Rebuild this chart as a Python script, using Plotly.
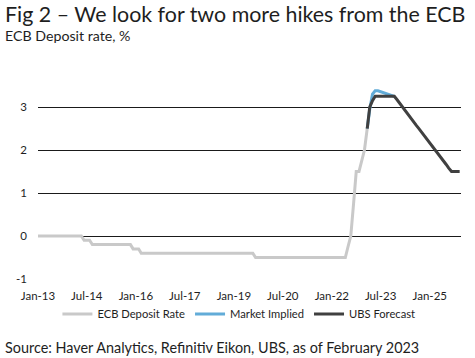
import plotly.graph_objects as go
import pandas as pd

# ECB deposit rate, monthly, Jan-2013 .. Feb-2023
ecb_dates = pd.date_range("2013-01-01", "2023-02-01", freq="MS")
ecb_rate = (
    [0.0] * 12 +                                                                   # 2013
    [0.0, 0.0, 0.0, 0.0, 0.0, -0.1, -0.1, -0.1, -0.2, -0.2, -0.2, -0.2] +          # 2014
    [-0.2, -0.2, -0.2, -0.2, -0.2, -0.2, -0.2, -0.2, -0.2, -0.2, -0.2, -0.3] +     # 2015
    [-0.3, -0.3, -0.4, -0.4, -0.4, -0.4, -0.4, -0.4, -0.4, -0.4, -0.4, -0.4] +     # 2016
    [-0.4] * 12 +                                                                  # 2017
    [-0.4] * 12 +                                                                  # 2018
    [-0.4, -0.4, -0.4, -0.4, -0.4, -0.4, -0.4, -0.4, -0.5, -0.5, -0.5, -0.5] +     # 2019
    [-0.5] * 12 +                                                                  # 2020
    [-0.5] * 12 +                                                                  # 2021
    [-0.5, -0.5, -0.5, -0.5, -0.5, -0.5, -0.25, 0.0, 0.75, 1.5, 1.5, 1.75] +       # 2022
    [2.0, 2.5]                                                                     # 2023
)

# Market implied path, Feb-2023 .. Dec-2023
mkt_dates = pd.date_range("2023-02-01", "2023-12-01", freq="MS")
mkt_rate = [2.5, 2.95, 3.3, 3.38, 3.38, 3.36, 3.34, 3.32, 3.3, 3.27, 3.25]

# UBS forecast, Feb-2023 .. Dec-2025
ubs_dates = pd.date_range("2023-02-01", "2025-12-01", freq="MS")
ubs_rate = (
    [2.5, 3.0, 3.15, 3.25, 3.25, 3.25, 3.25, 3.25, 3.25, 3.25, 3.25] +             # 2023
    [3.17, 3.08, 3.0, 2.92, 2.83, 2.75, 2.67, 2.58, 2.5, 2.42, 2.33, 2.25] +       # 2024
    [2.17, 2.08, 2.0, 1.92, 1.83, 1.75, 1.67, 1.58, 1.5, 1.5, 1.5, 1.5]            # 2025
)

y_ticks = [-1, 0, 1, 2, 3]

FONT = "Lato"
TXT = "#1e1e1e"

fig = go.Figure()
fig.add_trace(go.Scatter(x=ecb_dates, y=ecb_rate, mode="lines", name="ECB Deposit Rate",
                         line=dict(color="#c9c9c9", width=3)))
fig.add_trace(go.Scatter(x=mkt_dates, y=mkt_rate, mode="lines", name="Market Implied",
                         line=dict(color="#62acd8", width=3)))
fig.add_trace(go.Scatter(x=ubs_dates, y=ubs_rate, mode="lines", name="UBS Forecast",
                         line=dict(color="#404040", width=3)))

fig.update_layout(
    width=475, height=358,
    margin=dict(l=38, r=14, t=86, b=79),
    paper_bgcolor="white", plot_bgcolor="white",
    font=dict(family=FONT, color=TXT, size=11),
    showlegend=True,
    legend=dict(orientation="h", x=0.475, xanchor="center", y=-0.181, yanchor="middle",
                font=dict(size=11.2, color=TXT), itemwidth=30, tracegroupgap=0,
                bgcolor="rgba(0,0,0,0)"),
    xaxis=dict(type="date", range=["2013-01-01", "2025-12-16"],
               tick0="2013-01-01", dtick="M18", tickformat="%b-%y",
               showgrid=False, zeroline=False, showline=False,
               ticks="outside", ticklen=6, tickcolor="rgba(0,0,0,0)",
               tickfont=dict(size=11.5, color=TXT)),
    yaxis=dict(range=[-1, 3.49], tickvals=y_ticks, ticktext=[str(v) for v in y_ticks],
               showgrid=True, gridcolor="#1a1a1a", gridwidth=1,
               zeroline=True, zerolinecolor="#1a1a1a", zerolinewidth=1,
               showline=False, ticks="", ticklabelstandoff=10,
               tickfont=dict(size=11.5, color=TXT)),
    annotations=[
        dict(text="Fig 2 – We look for two more hikes from the ECB", xref="paper", yref="paper",
             x=-0.0827, y=1.375, xanchor="left", yanchor="middle", showarrow=False,
             font=dict(size=21.4, color=TXT, family=FONT)),
        dict(text="ECB Deposit rate, %", xref="paper", yref="paper",
             x=-0.0827, y=1.264, xanchor="left", yanchor="middle", showarrow=False,
             font=dict(size=14.2, color=TXT, family=FONT)),
        dict(text="Source: Haver Analytics, Refinitiv Eikon, UBS, as of February 2023",
             xref="paper", yref="paper",
             x=-0.0827, y=-0.3566, xanchor="left", yanchor="middle", showarrow=False,
             font=dict(size=14.4, color=TXT, family=FONT)),
    ],
)

fig.write_html("out.html", config={"displayModeBar": False},
               post_script="document.body.style.margin='0px';")
